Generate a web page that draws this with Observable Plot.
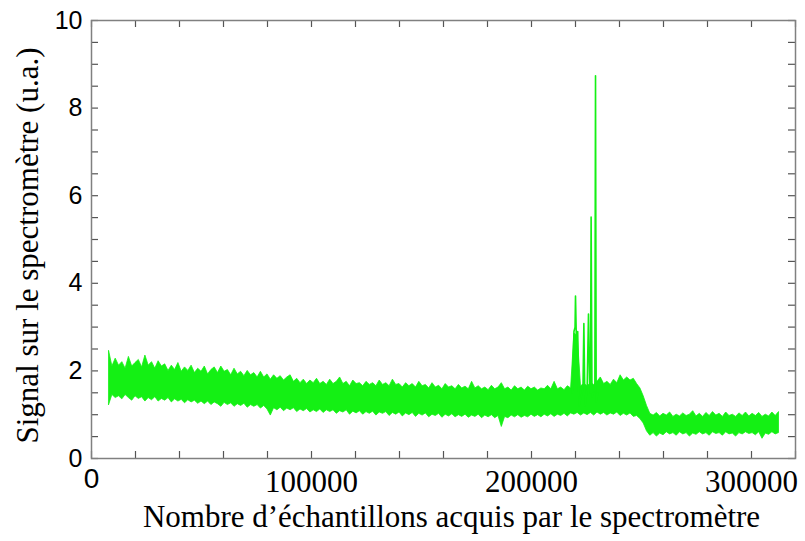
<!DOCTYPE html>
<html>
<head>
<meta charset="utf-8">
<script src="https://cdn.jsdelivr.net/npm/d3@7"></script>
<script src="https://cdn.jsdelivr.net/npm/@observablehq/plot@0.6"></script>
<style>
  html, body { margin: 0; padding: 0; background: #fff; }
</style>
</head>
<body>
<div id="chart"></div>
<script>
// Sample index (échantillons) where the envelope of the noisy signal was read: every 1500 samples from 8000
const bandX = d3.range(8000, 313001, 1500);
// Upper envelope of the signal (u.a.)
const bandTop = [
  2.45, 2.1, 2.28, 2.12, 2.2, 2.05, 2.32, 2.1, 2.18, 2.25,
  2.08, 2.35, 2.12, 2.2, 2.05, 2.22, 2.1, 2.15, 2.0, 2.12,
  2.02, 2.18, 1.98, 2.08, 2.0, 2.12, 1.95, 2.05, 1.98, 2.1,
  1.92, 2.02, 2.08, 1.95, 2.1, 1.98, 2.02, 1.9, 2.05, 1.92,
  1.98, 1.88, 2.0, 1.9, 1.95, 1.85, 1.98, 1.85, 1.92, 1.8,
  1.9, 1.82, 1.88, 1.78, 1.85, 1.9, 1.75, 1.82, 1.72, 1.8,
  1.7, 1.78, 1.72, 1.82, 1.7, 1.75, 1.68, 1.8, 1.7, 1.75,
  1.85, 1.7, 1.75, 1.65, 1.78, 1.7, 1.72, 1.65, 1.75, 1.68,
  1.72, 1.65, 1.78, 1.68, 1.72, 1.65, 1.8, 1.68, 1.7, 1.62,
  1.72, 1.65, 1.7, 1.62, 1.75, 1.65, 1.68, 1.6, 1.72, 1.62,
  1.66, 1.58, 1.7, 1.62, 1.65, 1.58, 1.68, 1.6, 1.64, 1.58,
  1.75, 1.6, 1.65, 1.58, 1.62, 1.56, 1.66, 1.58, 1.62, 1.72,
  1.58, 1.62, 1.55, 1.65, 1.58, 1.62, 1.55, 1.64, 1.58, 1.62,
  1.55, 1.6, 1.58, 1.66, 1.58, 1.75, 1.58, 1.62, 1.56, 1.65,
  1.6, 2.85, 2.8, 1.65, 1.7, 1.65, 1.72, 1.68, 1.75, 1.85,
  1.7, 1.75, 1.68, 1.8, 1.72, 1.9, 1.78, 1.85, 1.78, 1.82,
  1.7, 1.6, 1.42, 1.2, 1.02, 0.98, 1.04, 0.96, 1.02, 0.98,
  1.05, 0.95, 1.0, 0.96, 1.03, 0.97, 1.0, 1.08, 0.96, 1.02,
  0.95, 1.04, 0.97, 1.06, 0.98, 1.02, 0.95, 1.05, 0.97, 1.0,
  0.95, 1.03, 0.97, 1.05, 0.96, 1.02, 0.97, 1.04, 0.95, 1.0,
  0.96, 1.05, 0.97, 1.06];
// Lower envelope of the signal (u.a.)
const bandBottom = [
  1.22, 1.45, 1.38, 1.42, 1.35, 1.45, 1.38, 1.32, 1.42, 1.36,
  1.4, 1.3, 1.38, 1.33, 1.4, 1.3, 1.36, 1.32, 1.38, 1.28,
  1.35, 1.3, 1.34, 1.26, 1.33, 1.28, 1.32, 1.25, 1.3, 1.24,
  1.3, 1.22, 1.28, 1.24, 1.18, 1.27, 1.22, 1.26, 1.18, 1.24,
  1.2, 1.25, 1.16, 1.22, 1.18, 1.22, 1.14, 1.2, 1.12, 0.98,
  1.15, 1.1, 1.16, 1.08, 1.14, 1.1, 1.15, 1.06, 1.12, 1.08,
  1.13, 1.05, 1.1, 1.06, 1.12, 1.04, 1.1, 1.06, 1.1, 1.02,
  1.08, 1.05, 1.1, 1.0, 1.07, 1.03, 1.08, 1.0, 1.06, 1.02,
  1.07, 0.98, 1.05, 1.02, 1.06, 0.97, 1.04, 1.0, 1.05, 0.96,
  1.03, 0.99, 1.04, 0.95, 1.02, 0.98, 1.03, 0.94, 1.0, 0.97,
  1.02, 0.93, 1.0, 0.96, 1.01, 0.94, 0.99, 0.95, 1.0, 0.93,
  0.98, 0.95, 1.0, 0.92, 0.98, 0.94, 0.99, 0.92, 0.97, 0.72,
  0.95, 0.92, 0.98, 0.94, 0.99, 0.93, 0.97, 0.94, 1.0, 0.95,
  0.99, 0.94, 1.0, 0.96, 1.01, 0.95, 1.0, 0.97, 1.02, 0.96,
  1.03, 1.0, 1.04, 0.98, 1.03, 0.99, 1.04, 0.98, 1.05, 1.0,
  1.04, 0.98, 1.03, 1.0, 1.05, 0.97, 1.02, 0.98, 1.03, 0.95,
  0.97, 0.9, 0.8, 0.62, 0.52, 0.58, 0.5, 0.57, 0.53, 0.6,
  0.55, 0.58, 0.52, 0.6, 0.55, 0.58, 0.5, 0.57, 0.54, 0.6,
  0.55, 0.58, 0.52, 0.6, 0.56, 0.58, 0.52, 0.6, 0.55, 0.57,
  0.5, 0.58, 0.55, 0.6, 0.56, 0.58, 0.53, 0.6, 0.45, 0.57,
  0.54, 0.6, 0.55, 0.58];
// Spike burst near 220000–230000 samples
const spikeX = [218500, 219300, 219800, 220000, 220400, 221000, 221600, 222500, 223400, 223800, 224300,
  225300, 225900, 226400, 226800, 227100, 227500, 228300, 228800, 229100, 229400, 230200];
const spikeY = [1.5, 2.9, 3.0, 3.71, 2.7, 2.9, 1.2, 1.4, 1.6, 3.08, 1.2,
  1.6, 3.3, 1.7, 1.5, 5.51, 1.4, 1.5, 1.6, 8.74, 1.3, 1.5];
// Axis ticks
const xTickLabels = [100000, 200000, 300000];
const yTickLabels = [0, 2, 4, 6, 8, 10];
const xMinorTicks = d3.range(0, 320001, 20000);
const yMinorTicks = d3.range(0, 10.01, 0.5);

const xTitle = "Nombre d’échantillons acquis par le spectromètre";
const yTitle = "Signal sur le spectromètre (u.a.)";

const band = bandX.map((x, i) => ({x, hi: bandTop[i], lo: bandBottom[i]}));
const spikes = spikeX.map((x, i) => ({x, y: spikeY[i]}));

const green = "#14f014";
const serif = "'Liberation Serif', 'Times New Roman', serif";
const sans = "'Liberation Sans', Arial, sans-serif";
const tickColor = "#555";

// frame is 805-91-10 = 704 px wide and 541-20-83 = 438 px tall; ticks are 7 px long, pointing inward
const W = 704, H = 438, T = 7;

const chart = Plot.plot({
  width: 805,
  height: 541,
  marginLeft: 91,
  marginRight: 10,
  marginTop: 20,
  marginBottom: 83,
  style: {background: "#fff", color: "#000", overflow: "visible"},
  x: {domain: [0, 320000]},
  y: {domain: [0, 10]},
  marks: [
    Plot.areaY(band, {x: "x", y1: "lo", y2: "hi", fill: green, stroke: green, strokeWidth: 0.8}),
    Plot.line(spikes, {x: "x", y: "y", stroke: green, strokeWidth: 1.6}),
    // inward ticks on all four sides
    Plot.tickX(xMinorTicks, {x: d => d, insetTop: H - T, stroke: tickColor, strokeWidth: 1.2}),
    Plot.tickX(xMinorTicks, {x: d => d, insetBottom: H - T, stroke: tickColor, strokeWidth: 1.2}),
    Plot.tickY(yMinorTicks, {y: d => d, insetRight: W - T, stroke: tickColor, strokeWidth: 1.2}),
    Plot.tickY(yMinorTicks, {y: d => d, insetLeft: W - T, stroke: tickColor, strokeWidth: 1.2}),
    // tick labels
    Plot.axisX([0], {anchor: "bottom", tickSize: 0, tickPadding: 10, fontSize: 28, fontFamily: sans, tickFormat: d => String(d), label: null}),
    Plot.axisX(xTickLabels, {anchor: "bottom", tickSize: 0, tickPadding: 11, fontSize: 31, fontFamily: serif, tickFormat: d => String(d), label: null}),
    Plot.axisY(yTickLabels, {anchor: "left", tickSize: 0, tickPadding: 9, fontSize: 25, fontFamily: sans, tickFormat: d => String(d), label: null}),
    Plot.frame({stroke: "#808080", strokeWidth: 1.5}),
    // axis titles
    Plot.text([xTitle], {frameAnchor: "bottom", dy: 68, dx: 8, fontSize: 31, fontFamily: serif, fill: "#000"}),
    Plot.text([yTitle], {frameAnchor: "left", textAnchor: "middle", dx: -63, dy: 6, rotate: -90, fontSize: 31, fontFamily: serif, fill: "#000"})
  ]
});
document.getElementById("chart").appendChild(chart);
</script>
</body>
</html>
